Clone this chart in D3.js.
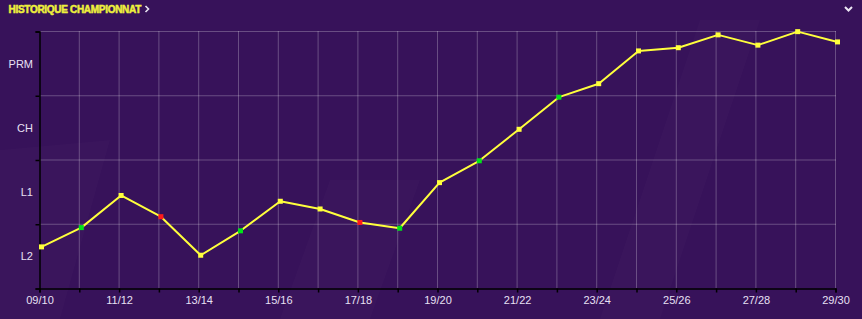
<!DOCTYPE html>
<html>
<head>
<meta charset="utf-8">
<script src="https://cdn.jsdelivr.net/npm/d3@7"></script>
<style>
  html, body { margin: 0; padding: 0; background: #37125a; }
  svg { display: block; }
  .tickLabel { font-family: "Liberation Sans", Arial, sans-serif; font-size: 11px; fill: #e8e0f4; }
</style>
</head>
<body>
<div id="chart"></div>
<script>
const width = 862, height = 319;

// seasons along the x axis
const seasons = ["09/10","10/11","11/12","12/13","13/14","14/15","15/16","16/17","17/18","18/19",
                 "19/20","20/21","21/22","22/23","23/24","24/25","25/26","26/27","27/28","28/29","29/30"];
// league position, 0 = bottom of L2 band, 4 = top of PRM band
const levels = [0.64,0.94,1.44,1.11,0.51,0.89,1.35,1.23,1.02,0.93,
                1.64,1.98,2.47,2.97,3.18,3.69,3.74,3.94,3.78,3.99,3.83];
// marker kind per season: "up" promotion, "down" relegation
const outcome = ["","up","","down","","up","","","down","up",
                 "","up","","up","","","","","","",""];
const divisions = ["L2","L1","CH","PRM"];

const markerColour = { "": "#ffff3c", "up": "#00e31a", "down": "#ff1a1a" };

const svg = d3.select("#chart")
  .append("svg")
  .attr("width", width)
  .attr("height", height);

// background with a few faint diagonal sheens
svg.append("rect").attr("width", width).attr("height", height).attr("fill", "#37125a");
const sheens = [
  [[0,150],[110,140],[60,319],[0,319]],
  [[280,319],[330,180],[420,180],[370,319]],
  [[600,319],[700,20],[760,20],[660,319]]
];
svg.selectAll(".sheen")
  .data(sheens)
  .enter()
  .append("polygon")
  .attr("class", "sheen")
  .attr("points", d => d.map(p => p.join(",")).join(" "))
  .attr("fill", "#ffffff")
  .attr("opacity", 0.015);

const x = d3.scaleLinear().domain([0, seasons.length - 1]).range([40, 836]);
const y = d3.scaleLinear().domain([0, 4]).range([288, 31]);

// grid
svg.selectAll(".vgrid")
  .data(d3.range(1, seasons.length))
  .enter()
  .append("line")
  .attr("x1", d => x(d) - 0.5).attr("x2", d => x(d) - 0.5)
  .attr("y1", y(4)).attr("y2", y(0))
  .attr("stroke", "#ffffff").attr("stroke-opacity", 0.25).attr("stroke-width", 1);

svg.selectAll(".hgrid")
  .data(d3.range(1, 5))
  .enter()
  .append("line")
  .attr("x1", x(0)).attr("x2", x(seasons.length - 1))
  .attr("y1", d => y(d) + 0.5).attr("y2", d => y(d) + 0.5)
  .attr("stroke", "#ffffff").attr("stroke-opacity", 0.25).attr("stroke-width", 1);

// axes
const xAxis = d3.axisBottom(x)
  .tickValues(d3.range(seasons.length))
  .tickSize(4)
  .tickFormat(i => i % 2 == 0 ? seasons[i] : "");

const gx = svg.append("g")
  .attr("transform", "translate(-0.5," + (y(0) + 0.5) + ")")
  .call(xAxis);
gx.select(".domain").attr("stroke", "#000").attr("stroke-width", 1.5);
gx.selectAll(".tick line").attr("stroke", "#000").attr("stroke-width", 1.5);
gx.selectAll(".tick text").attr("class", "tickLabel").attr("y", 8).attr("font-size", null).attr("font-family", null).attr("fill", null);

const yAxis = d3.axisLeft(y)
  .tickValues(d3.range(0, 5))
  .tickSize(4)
  .tickFormat("");

const gy = svg.append("g")
  .attr("transform", "translate(" + (x(0) - 0.5) + ",0.5)")
  .call(yAxis);
gy.select(".domain").attr("stroke", "#000").attr("stroke-width", 1.5);
gy.selectAll(".tick line").attr("stroke", "#000").attr("stroke-width", 1.5);

// division labels in the middle of each band
svg.selectAll(".divLabel")
  .data(divisions)
  .enter()
  .append("text")
  .attr("class", "tickLabel")
  .attr("text-anchor", "end")
  .attr("x", x(0) - 7)
  .attr("y", (d, i) => y(i + 0.5) + 4.5)
  .text(d => d);

// line
const line = d3.line()
  .x((d, i) => x(i) + 1.5)
  .y(d => y(d));

svg.append("path")
  .datum(levels)
  .attr("d", line)
  .attr("fill", "none")
  .attr("stroke", "#ffff3c")
  .attr("stroke-width", 2)
  .attr("stroke-linejoin", "round");

svg.selectAll(".marker")
  .data(levels)
  .enter()
  .append("rect")
  .attr("x", (d, i) => x(i) + 1.5 - 2.5)
  .attr("y", d => y(d) - 2.5)
  .attr("width", 5)
  .attr("height", 5)
  .attr("fill", (d, i) => markerColour[outcome[i]]);

// header
svg.append("text")
  .attr("x", 8.5)
  .attr("y", 12.5)
  .attr("fill", "#eef03c")
  .attr("stroke", "#eef03c")
  .attr("stroke-width", 0.5)
  .attr("font-family", "Liberation Sans, Arial, sans-serif")
  .attr("font-weight", "bold")
  .attr("font-size", "10px")
  .attr("letter-spacing", "-0.3px")
  .text("HISTORIQUE CHAMPIONNAT");

svg.append("path")
  .attr("d", "M145.5,6 L148.5,9 L145.5,12")
  .attr("fill", "none")
  .attr("stroke", "#e8e4f0")
  .attr("stroke-width", 1.6);

svg.append("path")
  .attr("d", "M845,7 L848.5,10.5 L852,7")
  .attr("fill", "none")
  .attr("stroke", "#ece6f4")
  .attr("stroke-width", 2);
</script>
</body>
</html>
